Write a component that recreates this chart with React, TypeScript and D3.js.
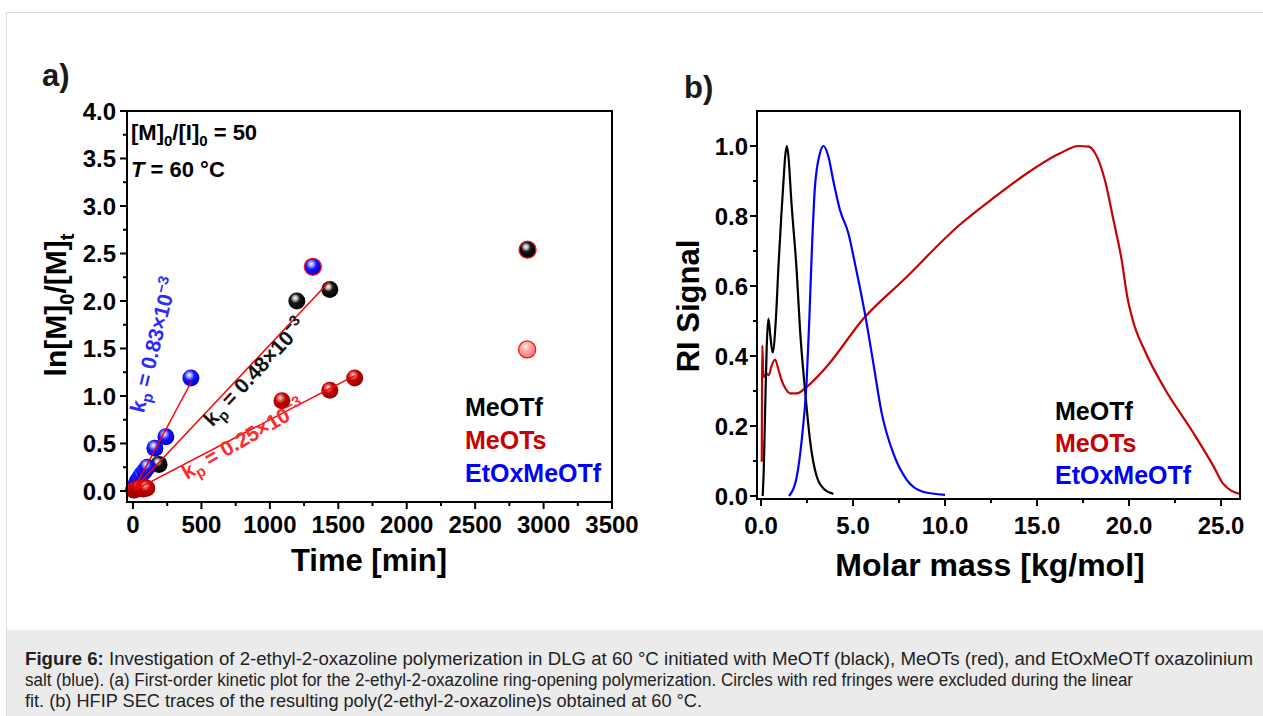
import React from "react";
import * as d3 from "d3";

const W = 1263;
const H = 716;
const FONT = "'Liberation Sans', Arial, sans-serif";

// ---- panel a: first-order kinetic plot, ln([M]0/[M]t) vs time [min]
const meotfTime = [5, 30, 60, 190, 1197, 1438, 2883];
const meotfLn = [0.01, 0.03, 0.05, 0.28, 2.0, 2.12, 2.54];
const meotfExcluded = [false, false, false, false, false, false, true];

const meotsTime = [10, 30, 50, 75, 100, 1088, 1438, 1620, 2880];
const meotsLn = [0.01, 0.02, 0.03, 0.02, 0.03, 0.95, 1.06, 1.19, 1.49];
const meotsExcluded = [false, false, false, false, false, false, false, false, true];

const etoxTime = [8, 18, 30, 45, 62, 85, 105, 160, 240, 423, 1314];
const etoxLn = [0.03, 0.06, 0.1, 0.13, 0.17, 0.21, 0.25, 0.45, 0.57, 1.19, 2.36];
const etoxExcluded = [false, false, false, false, false, false, false, false, false, false, true];

// linear fits: [t0, t1] and slope per minute
const fitRange = { meotf: [12, 1438], meots: [12, 1620], etox: [12, 423] };
const fitSlope = { meotf: 0.00153, meots: 0.00075, etox: 0.0027 };
const fitIntercept = { meotf: 0.01, meots: 0.0, etox: 0.0 };

const xTicksA = [0, 500, 1000, 1500, 2000, 2500, 3000, 3500];
const yTicksA = [0, 0.5, 1.0, 1.5, 2.0, 2.5, 3.0, 3.5, 4.0];

// ---- panel b: HFIP SEC traces, RI signal vs molar mass [kg/mol]
const secMeOTf: [number, number][] = [
  [0.09, 0], [0.15, 0.08], [0.22, 0.24], [0.31, 0.43], [0.4, 0.507], [0.5, 0.46],
  [0.63, 0.41], [0.8, 0.5], [0.95, 0.66], [1.1, 0.8], [1.22, 0.9], [1.32, 0.975],
  [1.4, 1.0], [1.48, 0.975], [1.65, 0.84], [1.94, 0.64], [2.12, 0.474], [2.39, 0.303],
  [2.66, 0.16], [3.03, 0.055], [3.48, 0.017], [3.93, 0.006],
];
const secMeOTs: [number, number][] = [
  [0.04, 0.098], [0.07, 0.43], [0.11, 0.36], [0.16, 0.34], [0.3, 0.35], [0.42, 0.345],
  [0.56, 0.37], [0.76, 0.39], [0.95, 0.36], [1.12, 0.33], [1.35, 0.305], [1.6, 0.293],
  [1.94, 0.293], [2.48, 0.312], [3.57, 0.37], [5.57, 0.507], [7.74, 0.617], [10.8, 0.775],
  [12.6, 0.85], [14.4, 0.92], [16.25, 0.979], [17.25, 1.0], [17.8, 0.998], [18.15, 0.98],
  [18.7, 0.9], [19.15, 0.789], [19.6, 0.674], [19.9, 0.57], [20.2, 0.503], [20.9, 0.41],
  [21.9, 0.31], [23.5, 0.18], [24.6, 0.084], [25.1, 0.036], [26.0, 0.006],
];
const secEtOx: [number, number][] = [
  [1.52, 0], [1.94, 0.055], [2.21, 0.16], [2.48, 0.33], [2.62, 0.5], [2.76, 0.7],
  [2.93, 0.884], [3.2, 0.979], [3.39, 1.0], [3.66, 0.97], [3.93, 0.9], [4.29, 0.817],
  [4.75, 0.75], [5.1, 0.665], [5.65, 0.52], [6.1, 0.38], [6.56, 0.236], [7.2, 0.12],
  [7.92, 0.046], [8.8, 0.012], [10.0, 0.003],
];

const xTicksB = [0, 5, 10, 15, 20, 25];
const yTicksB = [0, 0.2, 0.4, 0.6, 0.8, 1.0];

const legendNames = ["MeOTf", "MeOTs", "EtOxMeOTf"];
const legendColors = ["#000000", "#c80000", "#0000ff"];

const captionLines = [
  " Investigation of 2-ethyl-2-oxazoline polymerization in DLG at 60 \u00b0C initiated with MeOTf (black), MeOTs (red), and EtOxMeOTf oxazolinium",
  "salt (blue). (a) First-order kinetic plot for the 2-ethyl-2-oxazoline ring-opening polymerization. Circles with red fringes were excluded during the linear",
  "fit. (b) HFIP SEC traces of the resulting poly(2-ethyl-2-oxazoline)s obtained at 60 \u00b0C.",
];

const xA = d3.scaleLinear().domain([-44, 3500]).range([127, 612]);
const yA = d3.scaleLinear().domain([-0.116, 4.0]).range([502, 111]);
const xB = d3.scaleLinear().domain([-0.22, 26.03]).range([757, 1240]);
const yB = d3.scaleLinear().domain([-0.0086, 1.1]).range([499, 111]);

const minors = (major: number[]) =>
  major.slice(0, -1).map((v, i) => (v + major[i + 1]) / 2);

function Frame({ x, y }: { x: d3.ScaleLinear<number, number>; y: d3.ScaleLinear<number, number> }) {
  const [x0, x1] = x.range();
  const [y0, y1] = y.range();
  return (
    <rect x={x0} y={y1} width={x1 - x0} height={y0 - y1} fill="none" stroke="#000" strokeWidth={2} />
  );
}

function XAxis({ x, y, ticks, fmt, fontSize, labelY }: any) {
  const y0 = y.range()[0];
  return (
    <g>
      {ticks.map((t: number) => (
        <g key={t}>
          <line x1={x(t)} x2={x(t)} y1={y0} y2={y0 + 7} stroke="#000" strokeWidth={2} />
          <text x={x(t)} y={labelY} textAnchor="middle" fontSize={fontSize} fontWeight="bold" fontFamily={FONT}>
            {fmt(t)}
          </text>
        </g>
      ))}
      {minors(ticks).map((t: number) => (
        <line key={"m" + t} x1={x(t)} x2={x(t)} y1={y0} y2={y0 + 4} stroke="#000" strokeWidth={2} />
      ))}
    </g>
  );
}

function YAxis({ x, y, ticks, fmt, fontSize, labelX }: any) {
  const x0 = x.range()[0];
  return (
    <g>
      {ticks.map((t: number) => (
        <g key={t}>
          <line x1={x0} x2={x0 - 7} y1={y(t)} y2={y(t)} stroke="#000" strokeWidth={2} />
          <text x={labelX} y={y(t)} dy="0.36em" textAnchor="end" fontSize={fontSize} fontWeight="bold" fontFamily={FONT}>
            {fmt(t)}
          </text>
        </g>
      ))}
      {minors(ticks).map((t: number) => (
        <line key={"m" + t} x1={x0} x2={x0 - 4} y1={y(t)} y2={y(t)} stroke="#000" strokeWidth={2} />
      ))}
    </g>
  );
}

function Balls({ time, ln, excluded, grad }: any) {
  return (
    <g>
      {time.map((t: number, i: number) => {
        const out = excluded[i];
        const fill = out && grad === "ballRed" ? "url(#ballPale)" : `url(#${grad})`;
        return (
          <circle
            key={i}
            cx={xA(t)}
            cy={yA(ln[i])}
            r={8.5}
            fill={fill}
            stroke={out ? "#ff1010" : "none"}
            strokeWidth={out ? 1.3 : 0}
          />
        );
      })}
    </g>
  );
}

function FitLine({ range, slope, b }: any) {
  return (
    <line
      x1={xA(range[0])}
      y1={yA(b + slope * range[0])}
      x2={xA(range[1])}
      y2={yA(b + slope * range[1])}
      stroke="#ff0000"
      strokeWidth={1.5}
    />
  );
}

function KpLabel({ t, v, angle, value, color }: any) {
  return (
    <text
      transform={`translate(${xA(t)},${yA(v)}) rotate(${angle})`}
      textAnchor="middle"
      fill={color}
      fontSize={21}
      fontWeight="bold"
      fontFamily={FONT}
    >
      <tspan>k</tspan>
      <tspan dy={5} fontSize={15}>p</tspan>
      <tspan dy={-5}>{` = ${value}\u00d710`}</tspan>
      <tspan dy={-8} fontSize={15}>{"\u22123"}</tspan>
    </text>
  );
}

export default function App() {
  const line = d3
    .line<[number, number]>()
    .x((d) => xB(d[0]))
    .y((d) => yB(d[1]))
    .curve(d3.curveMonotoneX);

  return (
    <svg width={W} height={H} style={{ position: "absolute", left: 0, top: 0, background: "#fff" }}>
      <defs>
        <radialGradient id="ballBlack" cx="0.42" cy="0.38" r="0.62" fx="0.4" fy="0.32">
          <stop offset="0" stopColor="#ffffff" />
          <stop offset="0.22" stopColor="#b0b0b0" />
          <stop offset="0.45" stopColor="#161616" />
          <stop offset="1" stopColor="#000000" />
        </radialGradient>
        <radialGradient id="ballBlue" cx="0.42" cy="0.38" r="0.62" fx="0.4" fy="0.32">
          <stop offset="0" stopColor="#ffffff" />
          <stop offset="0.22" stopColor="#a0a0ff" />
          <stop offset="0.5" stopColor="#1414ff" />
          <stop offset="1" stopColor="#0000d0" />
        </radialGradient>
        <radialGradient id="ballRed" cx="0.42" cy="0.38" r="0.62" fx="0.4" fy="0.32">
          <stop offset="0" stopColor="#ffe0e0" />
          <stop offset="0.22" stopColor="#e07070" />
          <stop offset="0.5" stopColor="#c40000" />
          <stop offset="1" stopColor="#980000" />
        </radialGradient>
        <radialGradient id="ballPale" cx="0.42" cy="0.38" r="0.62" fx="0.4" fy="0.32">
          <stop offset="0" stopColor="#ffffff" />
          <stop offset="0.3" stopColor="#ffb8b8" />
          <stop offset="1" stopColor="#ff7676" />
        </radialGradient>
      </defs>

      <rect x={6.5} y={12.5} width={1300} height={800} fill="#fff" stroke="#dcdcdc" />

      {/* ---------- panel a ---------- */}
      <text x={42} y={86} fontSize={31} fontWeight="bold" fontFamily={FONT} fill="#1a1a1a">a)</text>

      <YAxis x={xA} y={yA} ticks={yTicksA} fmt={(d: number) => d.toFixed(1)} fontSize={24} labelX={116} />
      <XAxis x={xA} y={yA} ticks={xTicksA} fmt={(d: number) => String(d)} fontSize={24} labelY={533} />

      <Balls time={meotfTime} ln={meotfLn} excluded={meotfExcluded} grad="ballBlack" />
      <Balls time={etoxTime} ln={etoxLn} excluded={etoxExcluded} grad="ballBlue" />
      <Balls time={meotsTime} ln={meotsLn} excluded={meotsExcluded} grad="ballRed" />

      <FitLine range={fitRange.etox} slope={fitSlope.etox} b={fitIntercept.etox} />
      <FitLine range={fitRange.meotf} slope={fitSlope.meotf} b={fitIntercept.meotf} />
      <FitLine range={fitRange.meots} slope={fitSlope.meots} b={fitIntercept.meots} />

      <KpLabel t={200} v={1.52} angle={-76} value="0.83" color="#2b2bff" />
      <KpLabel t={925} v={1.2} angle={-47} value="0.48" color="#111" />
      <KpLabel t={830} v={0.48} angle={-30} value="0.25" color="#ff2a2a" />

      <Frame x={xA} y={yA} />

      <text x={131} y={140} fontSize={22} fontWeight="bold" fontFamily={FONT}>
        [M]<tspan dy={6} fontSize={15}>0</tspan>
        <tspan dy={-6}>/[I]</tspan>
        <tspan dy={6} fontSize={15}>0</tspan>
        <tspan dy={-6}> = 50</tspan>
      </text>
      <text x={131} y={177} fontSize={22} fontWeight="bold" fontFamily={FONT}>
        <tspan fontStyle="italic">T</tspan> = 60 °C
      </text>

      {legendNames.map((n, i) => (
        <text key={n} x={465} y={416 + i * 33} fontSize={25} fontWeight="bold" fontFamily={FONT} fill={legendColors[i]}>
          {n}
        </text>
      ))}

      <text transform="translate(66,305) rotate(-90)" textAnchor="middle" fontSize={30} fontWeight="bold" fontFamily={FONT}>
        ln[M]<tspan dy={8} fontSize={20}>0</tspan>
        <tspan dy={-8}>/[M]</tspan>
        <tspan dy={8} fontSize={20}>t</tspan>
      </text>
      <text x={369} y={571} textAnchor="middle" fontSize={31} fontWeight="bold" fontFamily={FONT}>
        Time [min]
      </text>

      {/* ---------- panel b ---------- */}
      <text x={684} y={98} fontSize={31} fontWeight="bold" fontFamily={FONT} fill="#1a1a1a">b)</text>

      <YAxis x={xB} y={yB} ticks={yTicksB} fmt={(d: number) => d.toFixed(1)} fontSize={24} labelX={748} />
      <XAxis x={xB} y={yB} ticks={xTicksB} fmt={(d: number) => d.toFixed(1)} fontSize={24} labelY={534} />

      <path d={line(secMeOTs) || ""} fill="none" stroke="#c80000" strokeWidth={2.2} />
      <path d={line(secMeOTf) || ""} fill="none" stroke="#000" strokeWidth={2.2} />
      <path d={line(secEtOx) || ""} fill="none" stroke="#0000ff" strokeWidth={2.2} />

      <Frame x={xB} y={yB} />

      {legendNames.map((n, i) => (
        <text key={n} x={1055} y={420 + i * 32} fontSize={25} fontWeight="bold" fontFamily={FONT} fill={legendColors[i]}>
          {n}
        </text>
      ))}

      <text transform="translate(699,306) rotate(-90)" textAnchor="middle" fontSize={31} fontWeight="bold" fontFamily={FONT}>
        RI Signal
      </text>
      <text x={990} y={576} textAnchor="middle" fontSize={32} fontWeight="bold" fontFamily={FONT}>
        Molar mass [kg/mol]
      </text>

      {/* ---------- caption ---------- */}
      <rect x={7} y={630} width={W - 7} height={H - 630} fill="#ebebeb" />
      <text x={25} y={665} fontSize={18} fontFamily={FONT} fill="#222" textLength={1228} lengthAdjust="spacingAndGlyphs">
        <tspan fontWeight="bold">Figure 6:</tspan>
        <tspan>{captionLines[0]}</tspan>
      </text>
      <text x={25} y={686} fontSize={18} fontFamily={FONT} fill="#222" textLength={1108} lengthAdjust="spacingAndGlyphs">
        {captionLines[1]}
      </text>
      <text x={25} y={707} fontSize={18} fontFamily={FONT} fill="#222" textLength={677} lengthAdjust="spacingAndGlyphs">
        {captionLines[2]}
      </text>
    </svg>
  );
}
